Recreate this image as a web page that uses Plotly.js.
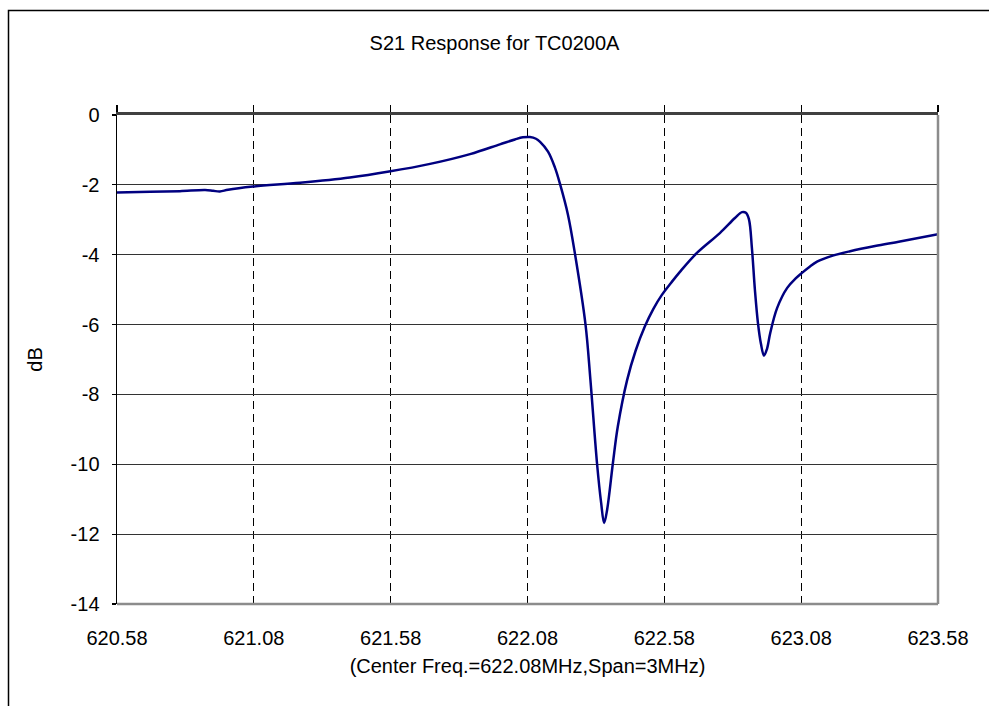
<!DOCTYPE html>
<html>
<head>
<meta charset="utf-8">
<script src="https://cdn.plot.ly/plotly-3.0.1.min.js"></script>
<style>html,body{margin:0;padding:0;background:#fff;}#chart{width:989px;height:706px;}</style>
</head>
<body>
<div id="chart"></div>
<script>
var freqMHz = [620.580, 620.701, 620.810, 620.902, 620.931, 620.956, 620.986, 621.077, 621.249, 621.431,
  621.574, 621.724, 621.870, 621.979, 622.034, 622.063, 622.089, 622.111, 622.126, 622.155,
  622.180, 622.199, 622.228, 622.254, 622.292, 622.310, 622.334, 622.349, 622.360, 622.371,
  622.392, 622.410, 622.444, 622.475, 622.509, 622.540, 622.571, 622.605, 622.637, 622.699,
  622.783, 622.838, 622.864, 622.878, 622.889, 622.900, 622.911, 622.922, 622.933, 622.944,
  622.955, 622.967, 622.992, 623.029, 623.060, 623.083, 623.110, 623.138, 623.190, 623.259,
  623.350, 623.441, 623.580];
var s21dB = [-2.22, -2.20, -2.18, -2.15, -2.17, -2.19, -2.14, -2.05, -1.94, -1.79,
  -1.62, -1.40, -1.12, -0.84, -0.70, -0.64, -0.63, -0.68, -0.77, -1.05,
  -1.50, -1.98, -2.86, -4.00, -6.00, -7.59, -9.97, -11.10, -11.68, -11.30,
  -9.97, -8.92, -7.59, -6.75, -6.05, -5.55, -5.15, -4.80, -4.49, -3.95,
  -3.38, -2.95, -2.78, -2.80, -2.98, -3.81, -5.01, -5.95, -6.55, -6.89,
  -6.70, -6.24, -5.53, -4.95, -4.68, -4.52, -4.35, -4.20, -4.04, -3.90,
  -3.75, -3.62, -3.41];

var xTickVals = [620.58, 621.08, 621.58, 622.08, 622.58, 623.08, 623.58];
var xTickText = ["620.58", "621.08", "621.58", "622.08", "622.58", "623.08", "623.58"];
var yTickVals = [0, -2, -4, -6, -8, -10, -12, -14];
var yTickText = ["0", "-2", "-4", "-6", "-8", "-10", "-12", "-14"];

var chartTitle = "S21 Response for TC0200A";
var xTitle = "(Center Freq.=622.08MHz,Span=3MHz)";
var yTitle = "dB";

var FONT = "Liberation Sans, Arial, sans-serif";

var traces = [
  {
    x: freqMHz, y: s21dB, type: "scatter", mode: "lines",
    line: {color: "#000080", width: 2.5, shape: "spline", smoothing: 1.0},
    hoverinfo: "skip", showlegend: false
  },
  {
    x: freqMHz, y: s21dB, type: "scatter", mode: "lines", xaxis: "x2",
    line: {color: "rgba(0,0,0,0)", width: 0},
    hoverinfo: "skip", showlegend: false
  }
];

var layout = {
  width: 989, height: 706,
  margin: {l: 117, r: 51, t: 115, b: 102, pad: 0},
  paper_bgcolor: "#ffffff", plot_bgcolor: "#ffffff",
  font: {family: FONT, size: 20, color: "#000"},
  showlegend: false,
  title: {text: chartTitle, font: {family: FONT, size: 20, color: "#000"},
          x: 0.5, xanchor: "center", y: 1 - 43/706, yanchor: "middle"},
  xaxis: {
    range: [620.58, 623.58], tickvals: xTickVals, ticktext: xTickText,
    ticks: "", showline: false, zeroline: false, ticklabelstandoff: 20,
    showgrid: true, gridcolor: "#000", gridwidth: 1, griddash: "8px,5px",
    tickfont: {family: FONT, size: 20, color: "#000"},
    title: {text: xTitle, font: {family: FONT, size: 20, color: "#000"}, standoff: 10},
    automargin: false
  },
  xaxis2: {
    overlaying: "x", side: "top", matches: "x", range: [620.58, 623.58],
    tickvals: xTickVals, showticklabels: false,
    ticks: "outside", ticklen: 7, tickwidth: 1.2, tickcolor: "#000",
    showline: true, linecolor: "#404040", linewidth: 3,
    showgrid: false, zeroline: false
  },
  yaxis: {
    range: [-14, 0], tickvals: yTickVals, ticktext: yTickText,
    ticks: "outside", ticklen: 4, tickwidth: 1.2, tickcolor: "#000",
    showline: true, linecolor: "#000", linewidth: 1.5, ticklabelstandoff: 8,
    showgrid: true, gridcolor: "#333", gridwidth: 1, zeroline: false,
    tickfont: {family: FONT, size: 20, color: "#000"},
    title: {text: yTitle, font: {family: FONT, size: 20, color: "#000"}, standoff: 22},
    automargin: false
  },
  shapes: [
    {type: "line", xref: "paper", yref: "paper", x0: 1, x1: 1, y0: 0, y1: 1,
     line: {color: "#8c8c8c", width: 2.5}},
    {type: "line", xref: "paper", yref: "paper", x0: 0, x1: 1, y0: 0, y1: 0,
     line: {color: "#8c8c8c", width: 2.5}},
    {type: "rect", xref: "paper", yref: "paper", x0: (8.5-117)/821, x1: 1.2, y0: -0.3, y1: (604-10.5)/489,
     line: {color: "#000", width: 1.5}, fillcolor: "rgba(0,0,0,0)", layer: "below"}
  ]
};

Plotly.newPlot("chart", traces, layout, {staticPlot: true, displayModeBar: false});
</script>
</body>
</html>
